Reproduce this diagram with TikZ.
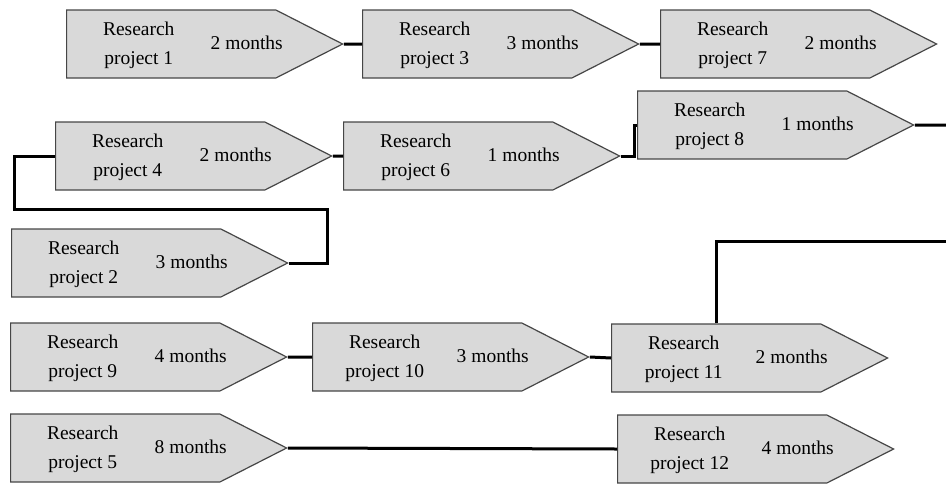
\documentclass[tikz,border=0pt]{standalone}
\usepackage{fontspec}
\setmainfont{Liberation Serif}
\usetikzlibrary{shapes.symbols}

\definecolor{boxfill}{RGB}{217,217,217}
\definecolor{boxline}{RGB}{70,70,70}

\newcommand{\rproj}[2]{\rlap{\hspace{-68.5pt}\makebox[72pt]{\begin{tabular}{@{}c@{}}Research\\project #1\end{tabular}}\hspace{36pt}#2 months}}

\tikzset{
    proj/.style={signal, signal to=east, signal pointer angle=54,
        draw=boxline, fill=boxfill, line width=1.2pt,
        minimum width=276pt, minimum height=68pt, inner sep=0pt,
        anchor=west, font=\fontsize{19.5}{29}\selectfont},
    link/.style={line width=3pt, black}
}

\begin{document}
\begin{tikzpicture}[x=1pt, y=-1pt]
    \useasboundingbox (0,0) rectangle (946,483);

    \node[proj] (p1) at (66, 44) {\rproj{1}{2}};
    \node[proj] (p3) at (362, 44) {\rproj{3}{3}};
    \node[proj] (p7) at (660, 44) {\rproj{7}{2}};
    \node[proj] (p4) at (55, 156) {\rproj{4}{2}};
    \node[proj] (p6) at (343, 156) {\rproj{6}{1}};
    \node[proj] (p8) at (637, 125) {\rproj{8}{1}};
    \node[proj] (p2) at (11, 263) {\rproj{2}{3}};
    \node[proj] (p9) at (10, 357) {\rproj{9}{4}};
    \node[proj] (p10) at (312, 357) {\rproj{10}{3}};
    \node[proj] (p11) at (611, 358) {\rproj{11}{2}};
    \node[proj] (p5) at (10, 448) {\rproj{5}{8}};
    \node[proj] (p12) at (617, 449) {\rproj{12}{4}};

    \coordinate (bendA) at (327, 209);
    \coordinate (bendB) at (14, 209);
    \coordinate (out8) at (946, 125);
    \coordinate (out11) at (946, 241);

    \draw[link] (p1.east) -- (p3.west)
                (p3.east) -- (p7.west)
                (p4.east) -- (p6.west)
                (p9.east) -- (p10.west)
                (p10.east) -- (p11.west)
                (p5.east) -- (p12.west)
                (p8.east) -- (out8);
    \draw[link] (p6.east) -- ++(14,0) |- (p8.west);
    \draw[link] (p2.east) -| (bendA) -- (bendB) |- (p4.west);
    \draw[link] (p11.north) |- (out11);
\end{tikzpicture}
\end{document}
